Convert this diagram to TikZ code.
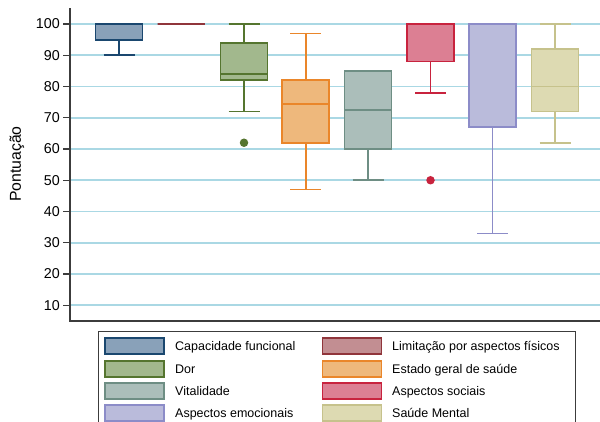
\documentclass[tikz,border=0pt]{standalone}
\usepackage{fontspec}
\setmainfont{Liberation Sans}
\definecolor{cNavy}{RGB}{26,71,111}
\definecolor{fNavy}{RGB}{137,161,185}
\definecolor{cMaroon}{RGB}{144,53,59}
\definecolor{fMaroon}{RGB}{194,142,146}
\definecolor{cGreen}{RGB}{85,117,47}
\definecolor{fGreen}{RGB}{162,184,141}
\definecolor{cOrange}{RGB}{234,134,42}
\definecolor{fOrange}{RGB}{238,184,124}
\definecolor{cTeal}{RGB}{110,142,132}
\definecolor{fTeal}{RGB}{171,190,186}
\definecolor{cCran}{RGB}{200,35,62}
\definecolor{fCran}{RGB}{220,127,147}
\definecolor{cLav}{RGB}{140,140,200}
\definecolor{fLav}{RGB}{186,187,219}
\definecolor{cKhaki}{RGB}{198,194,140}
\definecolor{fKhaki}{RGB}{221,218,178}
\definecolor{gridc}{RGB}{170,216,228}
\definecolor{axisc}{RGB}{60,60,60}
\newcommand\bxplot[8]{% center, q1, med, q3, wlo, whi, stroke, fill
  \draw[whisk, draw=#7] (#1,#2) -- (#1,#5) ({#1-15.5},#5) -- ({#1+15.5},#5);
  \draw[whisk, draw=#7] (#1,#4) -- (#1,#6) ({#1-15.5},#6) -- ({#1+15.5},#6);
  \draw[boxline, draw=#7, fill=#8] ({#1-23.5},#2) rectangle ({#1+23.5},#4);
  \draw[boxline, draw=#7] ({#1-23.5},#3) -- ({#1+23.5},#3);
}
\begin{document}
\begin{tikzpicture}[x=1pt,y=1pt,
  gridline/.style={draw=gridc, line width=1.6pt},
  axisline/.style={draw=axisc, line width=1.2pt},
  whisk/.style={line width=1.6pt},
  boxline/.style={line width=1.8pt},
  ticklab/.style={font=\fontsize{14.3}{16}\selectfont, anchor=east, inner sep=0pt},
  keybox/.style={draw, line width=1.4pt, minimum width=59pt, minimum height=16pt, inner sep=0pt},
  keylab/.style={font=\fontsize{12.5}{14}\selectfont, anchor=base west, inner sep=0pt},
  outdot/.style={circle, inner sep=0pt, minimum size=8.5pt}]
\useasboundingbox (0,0) rectangle (600,422);
\clip (0,0) rectangle (600,422);
\begin{scope}[y=3.125pt, yshift=85.5pt]
  \foreach \v in {10,20,...,100} {
    \draw[gridline] (70,\v) -- (600,\v);
    \draw[axisline] (63,\v) -- (70,\v);
    \node[ticklab] (t\v) at (60,\v) {\v};
  }
  \draw[axisline] (70,105.1) -- (70,4.96) -- (600,4.96);
  % boxes
  \bxplot{119}{95}{100}{100}{90}{100}{cNavy}{fNavy}
  \bxplot{181}{100}{100}{100}{100}{100}{cMaroon}{fMaroon}
  \bxplot{244}{82}{84}{94}{72}{100}{cGreen}{fGreen}
  \bxplot{305.8}{62}{74.5}{82}{47}{97}{cOrange}{fOrange}
  \bxplot{368}{60}{72.5}{85}{50}{85}{cTeal}{fTeal}
  \bxplot{430.5}{88}{100}{100}{78}{100}{cCran}{fCran}
  \bxplot{492.5}{67}{100}{100}{33}{100}{cLav}{fLav}
  \bxplot{555}{72}{80}{92}{62}{100}{cKhaki}{fKhaki}
  \node[outdot, fill=cGreen] (o1) at (244,62) {};
  \node[outdot, fill=cCran] (o2) at (430.5,50) {};
\end{scope}
\node[rotate=90, font=\fontsize{15.8}{18}\selectfont, inner sep=0pt] (ytitle) at (17,258) {Pontuação};
% legend
\draw[draw=axisc, line width=0.9pt] (98,90.3) rectangle (575,-10);
\node[keybox, draw=cNavy, fill=fNavy] (k1) at (134.5,76) {};
\node[keybox, draw=cGreen, fill=fGreen] (k3) at (134.5,53) {};
\node[keybox, draw=cTeal, fill=fTeal] (k5) at (134.5,31) {};
\node[keybox, draw=cLav, fill=fLav] (k7) at (134.5,9) {};
\node[keybox, draw=cMaroon, fill=fMaroon] (k2) at (352,76) {};
\node[keybox, draw=cOrange, fill=fOrange] (k4) at (352,53) {};
\node[keybox, draw=cCran, fill=fCran] (k6) at (352,31) {};
\node[keybox, draw=cKhaki, fill=fKhaki] (k8) at (352,9) {};
\node[keylab] (l1) at (175,71.5) {Capacidade funcional};
\node[keylab] (l3) at (175,48.5) {Dor};
\node[keylab] (l5) at (175,26.5) {Vitalidade};
\node[keylab] (l7) at (175,4.5) {Aspectos emocionais};
\node[keylab] (l2) at (392,71.5) {Limitação por aspectos físicos};
\node[keylab] (l4) at (392,48.5) {Estado geral de saúde};
\node[keylab] (l6) at (392,26.5) {Aspectos sociais};
\node[keylab] (l8) at (392,4.5) {Saúde Mental};
\end{tikzpicture}
\end{document}
